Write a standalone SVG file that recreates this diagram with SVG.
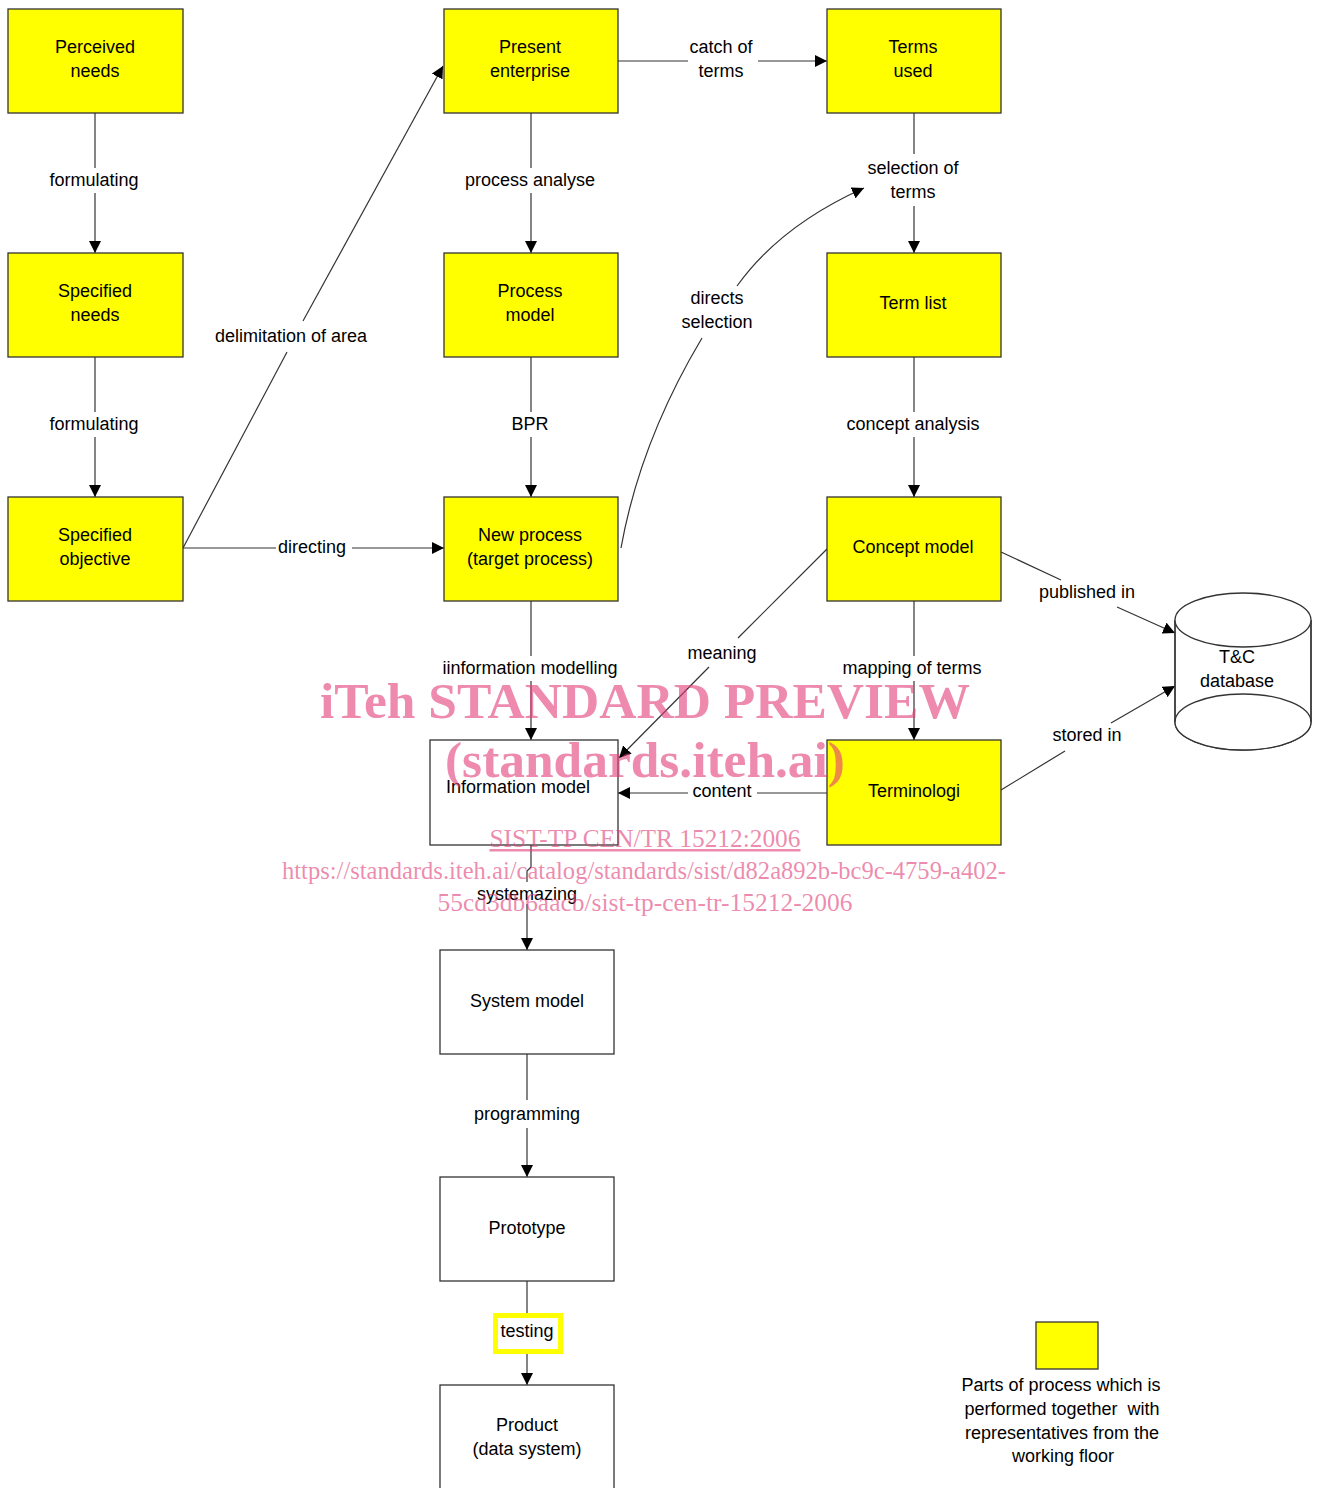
<svg xmlns="http://www.w3.org/2000/svg" width="1318" height="1488" viewBox="0 0 1318 1488">
<style>
  .box{fill:#ffff00;stroke:#333;stroke-width:1.3}
  .wbox{fill:#fff;stroke:#333;stroke-width:1.3}
  .t{font-family:"Liberation Sans",Arial,sans-serif;font-size:18px;fill:#000;text-anchor:middle}
  .c{fill:none;stroke:#333;stroke-width:1.2}
  .a{marker-end:url(#arr)}
  .wm{font-family:"Liberation Serif","Times New Roman",serif;fill:#e13c78;fill-opacity:0.6;text-anchor:middle}
</style>
<defs>
  <marker id="arr" viewBox="0 0 12 12" refX="12" refY="6" markerWidth="12" markerHeight="12" markerUnits="userSpaceOnUse" orient="auto">
    <path d="M0,0 L12,6 L0,12 z" fill="#000"/>
  </marker>
</defs>
<rect width="1318" height="1488" fill="#fff"/>

<g id="connectors">
  <path class="c" d="M95,113 V168"/><path class="c a" d="M95,193 V253"/>
  <text class="t" x="94" y="186">formulating</text>
  <path class="c" d="M95,357 V412"/><path class="c a" d="M95,437 V497"/>
  <text class="t" x="94" y="430">formulating</text>
  <path class="c" d="M183,548 H276"/><path class="c a" d="M352,548 H444"/>
  <text class="t" x="312" y="553">directing</text>
  <path class="c" d="M183,548 L287,352"/><path class="c a" d="M303,321 L443,66"/>
  <text class="t" x="291" y="342">delimitation of area</text>
  <path class="c" d="M531,113 V168"/><path class="c a" d="M531,193 V253"/>
  <text class="t" x="530" y="186">process analyse</text>
  <path class="c" d="M531,357 V412"/><path class="c a" d="M531,437 V497"/>
  <text class="t" x="530" y="430">BPR</text>
  <path class="c" d="M618,61 H688"/><path class="c a" d="M758,61 H827"/>
  <text class="t" x="721" y="53">catch of</text><text class="t" x="721" y="77">terms</text>
  <path class="c" d="M914,113 V154"/><path class="c a" d="M914,206 V253"/>
  <text class="t" x="913" y="174">selection of</text><text class="t" x="913" y="198">terms</text>
  <path class="c" d="M621,548 C635,470 665,400 702,338"/><path class="c a" d="M737,286 C770,240 815,210 864,188"/>
  <text class="t" x="717" y="304">directs</text><text class="t" x="717" y="328">selection</text>
  <path class="c" d="M914,357 V412"/><path class="c a" d="M914,437 V497"/>
  <text class="t" x="913" y="430">concept analysis</text>
  <path class="c" d="M531,601 V656"/><path class="c a" d="M531,681 V740"/>
  <text class="t" x="530" y="674">iinformation modelling</text>
  <path class="c" d="M827,549 L738,638"/><path class="c a" d="M709,667 L619,758"/>
  <text class="t" x="722" y="659">meaning</text>
  <path class="c" d="M914,601 V656"/><path class="c a" d="M914,681 V740"/>
  <text class="t" x="912" y="674">mapping of terms</text>
  <path class="c" d="M827,793 H757"/><path class="c a" d="M688,793 H618"/>
  <text class="t" x="722" y="797">content</text>
  <path class="c" d="M1001,552 L1061,580"/><path class="c a" d="M1117,607 L1175,633"/>
  <text class="t" x="1087" y="598">published in</text>
  <path class="c" d="M1001,790 L1065,751"/><path class="c a" d="M1111,723 L1175,686"/>
  <text class="t" x="1087" y="741">stored in</text>
  <path class="c" d="M531,845 V867 L527,871 V882"/><path class="c a" d="M527,904 V950"/>
  <text class="t" x="527" y="900">systemazing</text>
  <path class="c" d="M527,1054 V1100"/><path class="c a" d="M527,1128 V1177"/>
  <text class="t" x="527" y="1120">programming</text>
  <path class="c" d="M527,1281 V1313"/><path class="c a" d="M527,1354 V1385"/>
  <rect x="495.5" y="1315.5" width="65" height="36" fill="#fff" stroke="#ffff00" stroke-width="5"/>
  <text class="t" x="527" y="1337">testing</text>
</g>

<g id="perceived-needs"><rect class="box" x="8" y="9" width="175" height="104"/><text class="t" x="95" y="53">Perceived</text><text class="t" x="95" y="77">needs</text></g>
<g id="present-enterprise"><rect class="box" x="444" y="9" width="174" height="104"/><text class="t" x="530" y="53">Present</text><text class="t" x="530" y="77">enterprise</text></g>
<g id="terms-used"><rect class="box" x="827" y="9" width="174" height="104"/><text class="t" x="913" y="53">Terms</text><text class="t" x="913" y="77">used</text></g>
<g id="specified-needs"><rect class="box" x="8" y="253" width="175" height="104"/><text class="t" x="95" y="297">Specified</text><text class="t" x="95" y="321">needs</text></g>
<g id="process-model"><rect class="box" x="444" y="253" width="174" height="104"/><text class="t" x="530" y="297">Process</text><text class="t" x="530" y="321">model</text></g>
<g id="term-list"><rect class="box" x="827" y="253" width="174" height="104"/><text class="t" x="913" y="309">Term list</text></g>
<g id="specified-objective"><rect class="box" x="8" y="497" width="175" height="104"/><text class="t" x="95" y="541">Specified</text><text class="t" x="95" y="565">objective</text></g>
<g id="new-process"><rect class="box" x="444" y="497" width="174" height="104"/><text class="t" x="530" y="541">New process</text><text class="t" x="530" y="565">(target process)</text></g>
<g id="concept-model"><rect class="box" x="827" y="497" width="174" height="104"/><text class="t" x="913" y="553">Concept model</text></g>
<g id="information-model"><rect class="wbox" x="430" y="740" width="188" height="105"/><text class="t" x="518" y="793">Information model</text></g>
<g id="terminologi"><rect class="box" x="827" y="740" width="174" height="105"/><text class="t" x="914" y="797">Terminologi</text></g>
<g id="tc-database">
  <path class="wbox" d="M1175,620 V722 A68,28 0 0 0 1311,722 V620"/>
  <ellipse class="wbox" cx="1243" cy="722" rx="68" ry="28"/>
  <path d="M1175,722 V620 M1311,620 V722" stroke="#333" stroke-width="1.3"/>
  <ellipse class="wbox" cx="1243" cy="620" rx="68" ry="27"/>
  <text class="t" x="1237" y="663">T&amp;C</text><text class="t" x="1237" y="687">database</text>
</g>
<g id="system-model"><rect class="wbox" x="440" y="950" width="174" height="104"/><text class="t" x="527" y="1007">System model</text></g>
<g id="prototype"><rect class="wbox" x="440" y="1177" width="174" height="104"/><text class="t" x="527" y="1234">Prototype</text></g>
<g id="product"><rect class="wbox" x="440" y="1385" width="174" height="115"/><text class="t" x="527" y="1431">Product</text><text class="t" x="527" y="1455">(data system)</text></g>
<g id="legend">
  <rect class="box" x="1036" y="1322" width="62" height="47"/>
  <text class="t" x="1061" y="1391">Parts of process which is</text>
  <text class="t" x="1062" y="1415" xml:space="preserve">performed together  with</text>
  <text class="t" x="1062" y="1439">representatives from the</text>
  <text class="t" x="1063" y="1462">working floor</text>
</g>

<g id="watermark">
  <text class="wm" x="645" y="718" font-size="51" font-weight="bold" textLength="650" lengthAdjust="spacingAndGlyphs">iTeh STANDARD PREVIEW</text>
  <text class="wm" x="645" y="777" font-size="51" font-weight="bold" textLength="400" lengthAdjust="spacingAndGlyphs">(standards.iteh.ai)</text>
  <text class="wm" x="645" y="847" font-size="25" text-decoration="underline" textLength="311" lengthAdjust="spacingAndGlyphs">SIST-TP CEN/TR 15212:2006</text>
  <text class="wm" x="644" y="879" font-size="25" textLength="724" lengthAdjust="spacingAndGlyphs">https://standards.iteh.ai/catalog/standards/sist/d82a892b-bc9c-4759-a402-</text>
  <text class="wm" x="645" y="911" font-size="25" textLength="415" lengthAdjust="spacingAndGlyphs">55cd3db6aacb/sist-tp-cen-tr-15212-2006</text>
</g>
</svg>
